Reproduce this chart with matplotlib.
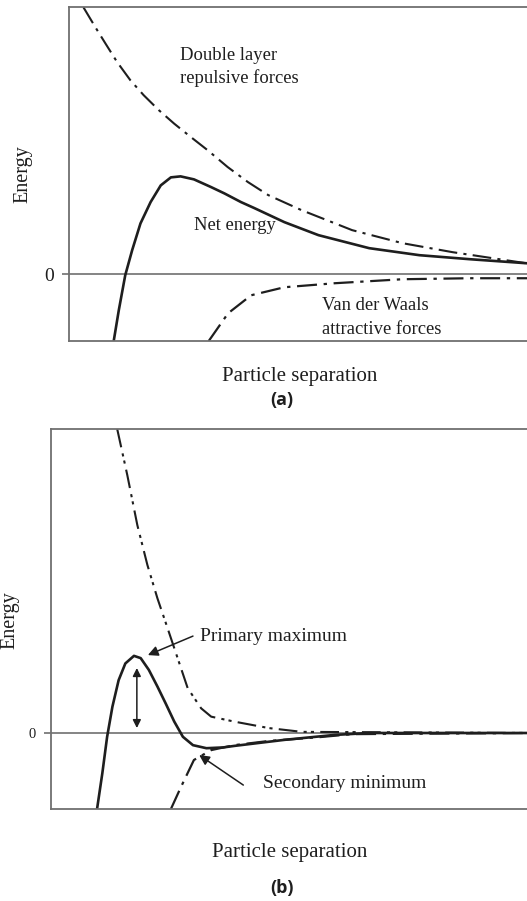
import matplotlib
matplotlib.use("Agg")
import matplotlib.pyplot as plt

# ---------------- Panel (a) data ----------------
a_rep_x = [0.31, 0.57, 0.79, 1.04, 1.33, 1.62, 1.95, 2.28, 2.64, 3.01, 3.44, 3.88, 4.32,
           5.04, 6.14, 7.23, 8.32, 9.91, 10.0]
a_rep_y = [8.0, 7.40, 6.91, 6.36, 5.81, 5.36, 4.91, 4.51, 4.11, 3.71, 3.21, 2.76, 2.37,
           1.92, 1.32, 0.93, 0.66, 0.33, 0.31]

a_net_x = [0.97, 1.08, 1.22, 1.37, 1.55, 1.77, 1.99, 2.21, 2.42, 2.71, 3.08, 3.37, 3.73,
           4.02, 4.67, 5.41, 6.51, 7.60, 8.69, 9.91, 10.0]
a_net_y = [-2.0, -1.08, -0.03, 0.72, 1.52, 2.16, 2.66, 2.90, 2.93, 2.84, 2.61, 2.42, 2.16,
           1.98, 1.56, 1.17, 0.78, 0.57, 0.45, 0.33, 0.32]

a_vdw_x = [3.03, 3.45, 3.95, 4.67, 5.76, 7.23, 8.69, 10.0]
a_vdw_y = [-2.0, -1.17, -0.63, -0.39, -0.27, -0.15, -0.12, -0.12]

# ---------------- Panel (b) data ----------------
b_rep_x = [1.38, 1.59, 1.80, 2.01, 2.22, 2.43, 2.64, 2.85, 3.13, 3.34, 3.82, 4.54, 5.23, 10.0]
b_rep_y = [8.0, 6.79, 5.47, 4.42, 3.54, 2.76, 1.97, 1.18, 0.65, 0.43, 0.30, 0.13, 0.03, 0.0]

b_net_x = [0.96, 1.07, 1.17, 1.28, 1.41, 1.55, 1.73, 1.87, 2.04, 2.22, 2.39, 2.57, 2.75,
           2.96, 3.24, 3.59, 3.82, 4.87, 5.92, 6.64, 10.0]
b_net_y = [-2.0, -1.06, -0.10, 0.69, 1.39, 1.83, 2.03, 1.97, 1.66, 1.22, 0.78, 0.30, -0.10,
           -0.32, -0.40, -0.38, -0.34, -0.18, -0.05, 0.0, 0.0]

b_vdw_x = [2.50, 2.71, 2.98, 3.34, 3.82, 4.54, 5.59, 6.28, 10.0]
b_vdw_y = [-2.0, -1.42, -0.71, -0.45, -0.32, -0.21, -0.11, -0.03, 0.0]

gap_x = 1.79
gap_y = [1.71, 0.13]

serif = ["Liberation Serif", "DejaVu Serif"]
ink = "#1e1e1e"
spine_c = "#707070"

fig = plt.figure(figsize=(5.27, 9.01), dpi=100)

def make_axes(rect, zero_fs):
    ax = fig.add_axes(rect)
    ax.set_xlim(0, 10)
    ax.set_ylim(-2, 8)
    for s in ["left", "top", "bottom"]:
        ax.spines[s].set_color(spine_c)
        ax.spines[s].set_linewidth(1.3)
    ax.spines["right"].set_visible(False)
    ax.axhline(0, color=spine_c, lw=1.2, zorder=1)
    ax.set_xticks([])
    ax.set_yticks([0])
    ax.set_yticklabels(["0"], fontfamily=serif, fontsize=zero_fs, color=ink)
    ax.tick_params(axis="y", length=5, width=1.2, color=spine_c, pad=6)
    return ax

def curve(ax, x, y, lw, dashes=None):
    kw = dict(color=ink, lw=lw, solid_joinstyle="round", solid_capstyle="round")
    if dashes is not None:
        kw["dashes"] = dashes
    ax.plot(x, y, **kw)

# ---------- (a) ----------
axa = make_axes([0.1309, 0.6215, 0.875, 0.3707], 14)
curve(axa, a_rep_x, a_rep_y, 1.5, [9, 3, 1.5, 3])
curve(axa, a_net_x, a_net_y, 1.9)
curve(axa, a_vdw_x, a_vdw_y, 1.6, [9, 3, 1.5, 3])
txt = dict(fontfamily=serif, fontsize=13.4, color=ink, va="center", ha="left")
fig.text(180 / 527, 1 - 55 / 901, "Double layer", **txt)
fig.text(180 / 527, 1 - 78 / 901, "repulsive forces", **txt)
fig.text(194 / 527, 1 - 226 / 901, "Net energy", **txt)
fig.text(322 / 527, 1 - 306 / 901, "Van der Waals", **txt)
fig.text(322 / 527, 1 - 330 / 901, "attractive forces", **txt)
fig.text(23 / 527, 1 - 174 / 901, "Energy", rotation=90, fontfamily=serif, fontsize=14.5,
         color=ink, ha="center", va="center")
fig.text(300 / 527, 1 - 377 / 901, "Particle separation", fontfamily=serif, fontsize=15,
         color=ink, ha="center", va="center")
fig.text(282 / 527, 1 - 400 / 901, "(a)", fontfamily=["Open Sans", "DejaVu Sans"],
         fontweight="bold", fontsize=13, color=ink, ha="center", va="center")

# ---------- (b) ----------
axb = make_axes([0.0968, 0.1021, 0.91, 0.4218], 10.5)
curve(axb, b_rep_x, b_rep_y, 1.5, [9, 3, 1.5, 2, 1.5, 3])
curve(axb, b_net_x, b_net_y, 1.9)
curve(axb, b_vdw_x, b_vdw_y, 1.6, [9, 3, 1.5, 3])
axb.annotate("", xy=(gap_x, gap_y[0]), xytext=(gap_x, gap_y[1]),
             arrowprops=dict(arrowstyle="<|-|>", color=ink, lw=1.1,
                             mutation_scale=12, shrinkA=0, shrinkB=0))
arrow_kw = dict(arrowstyle="-|>", color=ink, lw=1.1, mutation_scale=15, shrinkA=0, shrinkB=0)
axb.annotate("", xy=(2.02, 2.05), xytext=(2.96, 2.55), arrowprops=arrow_kw)
axb.annotate("", xy=(3.09, -0.58), xytext=(4.01, -1.37), arrowprops=arrow_kw)
axb.text(3.11, 2.53, "Primary maximum", fontfamily=serif, fontsize=14, color=ink,
         va="center", ha="left")
axb.text(4.41, -1.32, "Secondary minimum", fontfamily=serif, fontsize=14, color=ink,
         va="center", ha="left")
fig.text(10 / 527, 1 - 620 / 901, "Energy", rotation=90, fontfamily=serif, fontsize=14.5,
         color=ink, ha="center", va="center")
fig.text(290 / 527, 1 - 852 / 901, "Particle separation", fontfamily=serif, fontsize=15,
         color=ink, ha="center", va="center")
fig.text(282 / 527, 1 - 888 / 901, "(b)", fontfamily=["Open Sans", "DejaVu Sans"],
         fontweight="bold", fontsize=13, color=ink, ha="center", va="center")

fig.savefig("out.png", dpi=100)
